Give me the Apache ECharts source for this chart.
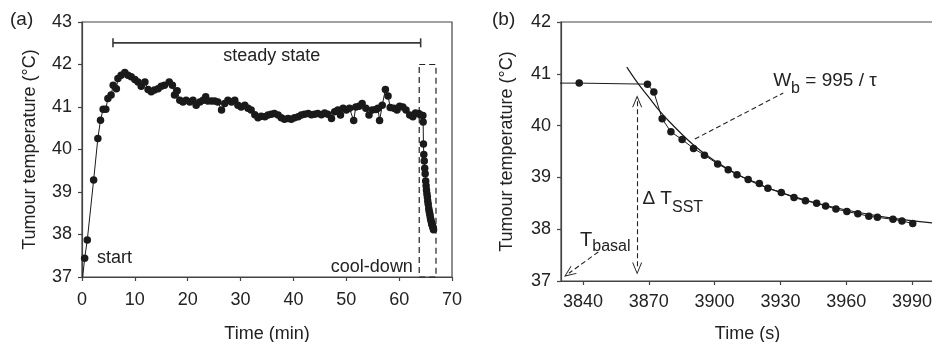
<!DOCTYPE html>
<html><head><meta charset="utf-8">
<script src="https://cdn.jsdelivr.net/npm/echarts@6/dist/echarts.min.js"></script>
<style>html,body{margin:0;padding:0;background:#fff}#c{width:932px;height:342px}</style>
</head><body><div id="c"></div>
<script>
// ---- Panel (a): time in minutes, tumour temperature in °C (steady phase) ----
const aTime = [0.05,0.5,1.0,2.2,3.0,3.5,4.0,4.5,4.9,5.5,5.9,6.5,6.8,7.4,8.1,8.7,9.3,10.0,10.6,11.2,11.9,12.5,13.1,13.7,14.4,15.0,15.6,16.5,17.1,17.5,18.0,18.5,19.1,19.7,20.4,21.0,21.6,22.3,22.9,23.4,23.8,24.5,25.1,25.7,26.4,27.0,27.6,28.3,28.9,29.5,30.1,30.8,31.4,32.0,32.7,33.3,33.9,34.6,35.2,35.8,36.4,37.1,37.7,38.3,39.0,39.6,40.2,40.9,41.5,42.1,42.8,43.4,44.0,44.6,45.3,45.9,46.5,47.2,47.8,48.4,48.9,49.4,50.0,50.6,51.4,51.8,52.4,53.0,53.7,54.3,54.9,55.6,56.0,56.3,56.8,57.4,57.9,58.3,59.0,59.6,60.1,60.7,61.3,62.0,62.6,63.1,63.7];
const aTemp = [36.9,37.44,37.87,39.28,40.26,40.69,40.95,40.95,41.2,41.28,41.51,41.43,41.67,41.75,41.81,41.75,41.71,41.65,41.59,41.49,41.59,41.41,41.36,41.40,41.43,41.49,41.51,41.59,41.51,41.28,41.38,41.16,41.12,41.16,41.12,41.16,41.04,41.12,41.16,41.24,41.14,41.14,41.14,41.12,40.93,41.08,41.16,41.12,41.16,41.04,41.00,41.04,40.97,40.93,40.82,40.75,40.78,40.77,40.81,40.83,40.85,40.81,40.75,40.71,40.73,40.71,40.75,40.77,40.81,40.83,40.85,40.82,40.83,40.85,40.82,40.86,40.83,40.73,40.89,40.93,40.81,40.97,40.93,40.97,40.68,41.00,41.02,41.08,40.97,40.81,40.93,40.94,40.97,40.68,41.04,41.41,41.26,40.99,40.97,40.93,41.02,41.00,40.93,40.81,40.77,40.86,40.85];

// ---- Panel (b): cool-down, time in seconds ----
const bTime = [3826,3838.3,3869.4,3872.3,3876.1,3880.1,3885.2,3890.4,3895.4,3901.4,3906.2,3910.2,3915.3,3920.4,3924.3,3930.4,3936.2,3941.4,3946.5,3950.6,3955.3,3960.3,3965.3,3970.3,3974.2,3981.3,3985.4,3990.3];
const bTemp = [40.82,40.82,40.80,40.65,40.13,39.88,39.73,39.56,39.43,39.26,39.15,39.05,38.96,38.88,38.79,38.71,38.61,38.55,38.50,38.45,38.39,38.34,38.30,38.25,38.23,38.19,38.16,38.11];

// fitted decay curve
const fitTime = [3860,3865,3870,3875,3880,3890,3900,3915,3930,3945,3960,3980,4000];
const fitTemp = [41.13,40.82,40.55,40.28,40.05,39.64,39.32,38.96,38.71,38.52,38.37,38.22,38.12];

// tick labels
const aXTicks = [0,10,20,30,40,50,60,70];
const aYTicks = [37,38,39,40,41,42,43];
const bXTicks = [3840,3870,3900,3930,3960,3990];
const bYTicks = [37,38,39,40,41,42];

// annotations
const steadyBar = [[5.86,42.51],[64.07,42.51]];
const coolBox = [[63.8,42],[66.97,42],[66.97,37],[63.8,37],[63.8,42]];

const FONT = "'Liberation Sans', Arial, Helvetica, sans-serif";
const TXT = '#222';
const AX = '#444';
const DOT = '#1a1a1a';

const aData = aTime.map((t,i)=>[t,aTemp[i]]).concat(bTime.slice(1).map((s,i)=>[s/60,bTemp[i+1]]));
const bData = bTime.map((s,i)=>[s,bTemp[i]]);
const fitData = fitTime.map((s,i)=>[s,fitTemp[i]]);

const chev = 'path://M0,12L5,0L10,12L9,12L5,2.4L1,12Z';

function axisCommon(margin){
  return {
    axisLine:{show:true,lineStyle:{color:AX,width:1.2}},
    axisTick:{show:true,length:4,lineStyle:{color:AX,width:1.2}},
    splitLine:{show:false},
    axisLabel:{color:TXT,fontSize:18,fontFamily:FONT,margin:margin,formatter:v=>String(v)},
    nameTextStyle:{color:TXT,fontSize:18,fontFamily:FONT},
    nameLocation:'middle'
  };
}

const chart = echarts.init(document.getElementById('c'), null, {renderer:'canvas'});
const option = {
  animation:false,
  backgroundColor:'#fff',
  title:[
    {text:'(a)',left:10,top:10,padding:0,textStyle:{fontSize:19,fontWeight:'normal',color:TXT,fontFamily:FONT}},
    {text:'(b)',left:492,top:10,padding:0,textStyle:{fontSize:19,fontWeight:'normal',color:TXT,fontFamily:FONT}}
  ],
  grid:[
    {left:82,right:480,top:22,bottom:65,show:true,borderColor:AX,borderWidth:1.2,outerBoundsMode:'none',containLabel:false},
    {left:561,right:-2,top:22,bottom:61,show:true,borderColor:AX,borderWidth:1.2,outerBoundsMode:'none',containLabel:false}
  ],
  xAxis:[
    Object.assign(axisCommon(14),{gridIndex:0,type:'value',min:aXTicks[0],max:aXTicks[aXTicks.length-1],interval:10,name:'Time (min)',nameGap:48}),
    Object.assign(axisCommon(12),{gridIndex:1,type:'value',min:3830,max:4000,name:'Time (s)',nameGap:44})
  ],
  yAxis:[
    Object.assign(axisCommon(10),{gridIndex:0,type:'value',min:aYTicks[0],max:aYTicks[aYTicks.length-1],interval:1,name:'Tumour temperature (°C)',nameGap:43,nameRotate:90}),
    Object.assign(axisCommon(10),{gridIndex:1,type:'value',min:bYTicks[0],max:bYTicks[bYTicks.length-1],interval:1,name:'Tumour temperature (°C)',nameGap:45,nameRotate:90})
  ],
  series:[
    {type:'line',xAxisIndex:0,yAxisIndex:0,data:aData,symbol:'circle',symbolSize:7.5,showAllSymbol:true,
      itemStyle:{color:DOT},lineStyle:{color:DOT,width:1},clip:true,z:3},
    {type:'line',xAxisIndex:0,yAxisIndex:0,data:steadyBar,symbol:'rect',symbolSize:[1.6,9],
      itemStyle:{color:'#3a3a3a'},lineStyle:{color:'#3a3a3a',width:1.6}},
    {type:'line',xAxisIndex:0,yAxisIndex:0,data:coolBox,symbol:'none',clip:false,
      lineStyle:{color:'#222',width:1.2,type:[6,4]}},
    {type:'line',xAxisIndex:1,yAxisIndex:1,data:bData,symbol:'circle',symbolSize:7.5,showAllSymbol:true,
      itemStyle:{color:DOT},lineStyle:{color:DOT,width:1},clip:true,z:3},
    {type:'line',xAxisIndex:1,yAxisIndex:1,data:fitData,symbol:'none',smooth:0.4,clip:true,
      lineStyle:{color:DOT,width:1.2},z:2,
      markLine:{silent:true,animation:false,label:{show:false},
        lineStyle:{color:'#222',width:1.1,type:[5,3]},
        data:[
          [{coord:[3864.7,40.47],symbol:chev,symbolSize:[10,12]},{coord:[3864.7,37.24],symbol:chev,symbolSize:[10,12]}],
          [{coord:[3847,37.56],symbol:'none'},{coord:[3833.6,37.15],symbol:chev,symbolSize:[10,12]}],
          [{coord:[3891,39.74],symbol:'none'},{coord:[3931.3,40.63],symbol:'none'}]
        ]}
    }
  ]
};
option.xAxis[1].axisTick.customValues = bXTicks;
option.xAxis[1].axisLabel.customValues = bXTicks;
chart.setOption(option);

// text annotations placed via the axes' scales
const P = (g,pt)=>chart.convertToPixel({gridIndex:g},pt);
function txt(g,pt,text,align,rich,font){
  const p = P(g,pt);
  return {type:'text',x:p[0],y:p[1],silent:true,z:10,
    style:{text:text,fill:TXT,font:font||('18px '+FONT),align:align,verticalAlign:'middle',rich:rich||{}}};
}
const rich = {
  m:{fontSize:19,fontFamily:FONT,fill:TXT,color:TXT,lineHeight:20,verticalAlign:'top'},
  s:{fontSize:16,fontFamily:FONT,fill:TXT,color:TXT,lineHeight:16,padding:[10,0,0,0],verticalAlign:'top'},
  t:{fontSize:20,fontFamily:FONT,fill:TXT,color:TXT,lineHeight:20,verticalAlign:'top'},
  s2:{fontSize:16,fontFamily:FONT,fill:TXT,color:TXT,lineHeight:16,padding:[8,0,0,0],verticalAlign:'top'}
};
chart.setOption({graphic:[
  txt(0,[35.9,42.19],'steady state','center'),
  txt(0,[2.84,37.45],'start','left'),
  txt(0,[62.6,37.24],'cool-down','right'),
  txt(1,[3926.7,40.86],'{m|W}{s|b}{m| = 995 / τ}','left',rich),
  txt(1,[3867.1,38.58],'{m|Δ T}{s|SST}','left',rich),
  txt(1,[3838.7,37.78],'{t|T}{s2|basal}','left',rich)
]});
</script>
</body></html>
